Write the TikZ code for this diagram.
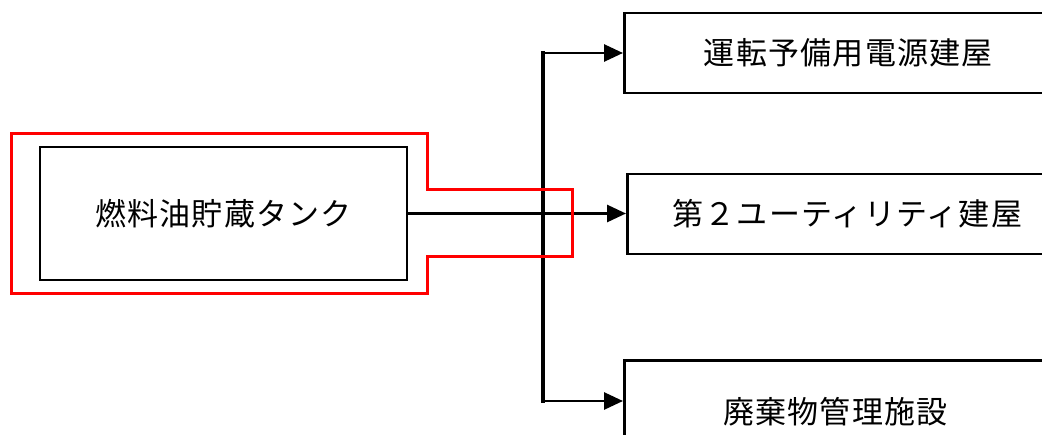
\documentclass[tikz,border=0pt]{standalone}
\usepackage{fontspec}
\newfontfamily\jp[LetterSpace=4]{Noto Sans CJK JP}
\usetikzlibrary{arrows.meta}
\begin{document}
\begin{tikzpicture}[x=1pt,y=-1pt,
  box/.style={draw=black,line width=2.6pt,fill=white,inner sep=0pt,font=\jp\fontsize{31}{31}\selectfont},
  conn/.style={draw=black,line width=3.5pt},
  arr/.style={draw=black,line width=2.8pt,-{Triangle[length=19pt,width=17pt]}},
  hl/.style={draw=red,line width=3pt,line join=miter}]
\useasboundingbox (0,0) rectangle (1042,434);
\fill[white] (0,0) rectangle (1042,434);
\begin{scope}
\clip (0,0) rectangle (1042,434);
\node[box,minimum width=367pt,minimum height=133pt] (tank) at (223.5,213.5) {燃料油貯蔵タンク};
\node[box,minimum width=440pt,minimum height=80pt,anchor=west] (b1) at (623,53) {\hspace*{4pt}運転予備用電源建屋\hspace*{-4pt}};
\node[box,minimum width=440pt,minimum height=80pt,anchor=west] (b2) at (626,214) {第２ユーティリティ建屋};
\node[box,minimum width=440pt,minimum height=102pt,anchor=north west] (b3) at (623,359) {\hspace*{-9pt}廃棄物管理施設\hspace*{9pt}};
\coordinate (jt) at (543,53);
\coordinate (jb) at (543,401);
\draw[conn,line cap=rect] (jt) -- (jb);
\draw[arr] (jt) -- (jt -| b1.west);
\draw[arr] (jb) -- (jb -| b3.west);
\draw[arr] (tank.east) -- (tank.east -| b2.west);
\draw[hl] (11,133) -- (427,133) -- (427,189) -- (572,189) -- (572,256) -- (427,256) -- (427,293) -- (11,293) -- cycle;
\end{scope}
\end{tikzpicture}
\end{document}
